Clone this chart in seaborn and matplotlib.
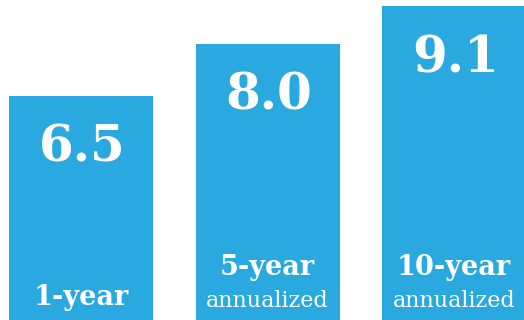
import matplotlib
matplotlib.use("Agg")
import matplotlib.pyplot as plt
import seaborn as sns
import pandas as pd

# Average annual returns by holding period
periods = ["1-year", "5-year", "10-year"]
returns = [6.5, 8.0, 9.1]
subtitles = ["", "annualized", "annualized"]

BAR_COLOR = "#29A9E0"

sns.set_theme(style="white")
plt.rcParams["font.family"] = ["DejaVu Serif"]

df = pd.DataFrame({"period": periods, "return": returns})

fig = plt.figure(figsize=(5.24, 3.20), dpi=100)
ax = fig.add_axes([0, 0, 1, 1])

sns.barplot(data=df, x="period", y="return", color=BAR_COLOR,
            saturation=1, width=0.772, linewidth=0, ax=ax)

ax.set_xlim(-0.435, 2.374)
ax.set_ylim(0, 9.275)
ax.axis("off")

for i, (val, label, sub) in enumerate(zip(returns, periods, subtitles)):
    # value inside the top of each bar
    ax.annotate(f"{val:.1f}", xy=(i, val), xytext=(1, -66),
                textcoords="offset pixels", ha="center", va="baseline",
                color="white", fontsize=36, fontweight="bold")
    # period label near the bottom
    if sub:
        ax.annotate(label, xy=(i, 0), xytext=(0, 45),
                    textcoords="offset pixels", ha="center", va="baseline",
                    color="white", fontsize=19.5, fontweight="bold")
        ax.annotate(sub, xy=(i, 0), xytext=(0, 13),
                    textcoords="offset pixels", ha="center", va="baseline",
                    color="white", fontsize=16)
    else:
        ax.annotate(label, xy=(i, 0), xytext=(0, 15),
                    textcoords="offset pixels", ha="center", va="baseline",
                    color="white", fontsize=19.5, fontweight="bold")

fig.savefig("out.png", dpi=100, facecolor="white")
